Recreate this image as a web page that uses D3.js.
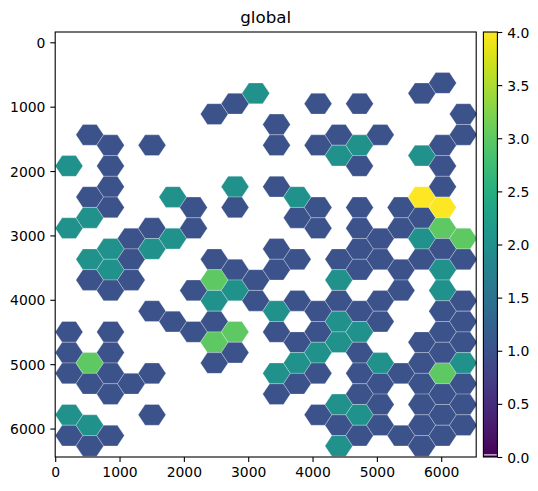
<!DOCTYPE html>
<html><head><meta charset="utf-8">
<script src="https://cdn.jsdelivr.net/npm/d3@7"></script>
<style>
body{margin:0;background:#fff;}
text{font-family:"DejaVu Sans",sans-serif;fill:#000;}
</style>
</head><body>
<svg id="chart" width="538" height="491"></svg>
<script>
// ---- data ----
const title = "global";
// hexagonal grid (data units): column centres and row centres
const gridX0 = 214.5, gridDX = 322.6;   // x of column 0, column spacing
const gridY0 = 632, gridDY = 322.2;     // y of row 0 (even columns), row spacing (odd columns offset by half)
// per column (0..19): occupied row indices and the bin counts
const hexRows = [
  [4,7,12,13,14,16,17],
  [2,5,6,8,9,13,14,16,17],
  [3,4,5,6,8,9,10,12,13,14,15,17],
  [7,8,9,14],
  [3,7,8,11,14,16],
  [5,7,11],
  [6,7,10,12],
  [1,8,9,10,11,12,13],
  [1,5,6,9,10,12,13],
  [0,9,10],
  [2,3,5,8,9,11,12,14,15],
  [5,6,8,10,12,13,14],
  [1,3,6,7,11,12,13,14,16],
  [2,3,8,9,10,11,12,15,16,17],
  [1,3,4,6,7,8,9,11,12,13,14,15,16,17],
  [2,7,8,10,11,13,14,15,16],
  [6,7,9,10,14,17],
  [0,3,5,6,7,8,12,13,14,15,16,17],
  [0,3,4,5,6,7,8,9,10,11,12,13,14,15,16,17],
  [1,2,7,8,10,11,12,13,14,15,16]
];
const hexCounts = [
  [2,2,1,1,1,2,1],
  [1,1,2,2,1,3,1,2,1],
  [1,1,1,1,2,2,1,1,1,1,1,1],
  [1,1,1,1],
  [1,1,2,1,1,1],
  [2,2,1],
  [1,1,1,1],
  [1,1,3,2,1,3,1],
  [1,2,1,1,2,3,1],
  [2,1,1],
  [1,1,1,1,1,2,1,2,1],
  [2,1,1,1,1,2,1],
  [1,1,1,1,1,1,2,1,1],
  [1,2,1,2,1,2,2,2,1,2],
  [1,2,1,1,1,1,1,1,2,1,1,1,2,1],
  [1,1,1,1,1,2,1,1,1],
  [1,1,1,1,1,1],
  [1,2,4,1,2,1,1,1,1,1,1,1],
  [1,1,1,1,4,3,1,2,2,1,1,1,3,1,1,1],
  [1,1,3,1,1,1,1,2,1,1,1]
];
const xTicks = [0,1000,2000,3000,4000,5000,6000];
const yTicks = [0,1000,2000,3000,4000,5000,6000];
const cbTicks = [0,0.5,1,1.5,2,2.5,3,3.5,4];
const xDomain = [0, 6544];
const yDomain = [-160, 6442];
const cDomain = [0, 4];

// ---- layout ----
const svg = d3.select("#chart");
const L = 55.2, R = 476.2, T = 32, B = 457;
const fs = 13.9, tickLen = 4.9, pad = 4.9;

const x = d3.scaleLinear().domain(xDomain).range([L, R]);
const y = d3.scaleLinear().domain(yDomain).range([T, B]);
const color = v => d3.interpolateViridis((v - cDomain[0]) / (cDomain[1] - cDomain[0]));

// build hex list
const hexes = [];
hexRows.forEach((rows, c) => rows.forEach((r, k) => {
  hexes.push({cx: gridX0 + c * gridDX, cy: gridY0 + r * gridDY + (c % 2) * gridDY / 2, v: hexCounts[c][k]});
}));

svg.append("defs").append("clipPath").attr("id","clip")
  .append("rect").attr("x",L).attr("y",T).attr("width",R-L).attr("height",B-T);

const hw = gridDX * 2 / 3, hh = gridDY / 2;
function hexPath(d){
  const pts = [[d.cx-hw,d.cy],[d.cx-hw/2,d.cy-hh],[d.cx+hw/2,d.cy-hh],[d.cx+hw,d.cy],[d.cx+hw/2,d.cy+hh],[d.cx-hw/2,d.cy+hh]];
  return "M" + pts.map(p => x(p[0]).toFixed(2) + "," + y(p[1]).toFixed(2)).join("L") + "Z";
}
svg.append("g").attr("clip-path","url(#clip)")
  .selectAll("path").data(hexes).join("path")
  .attr("d", hexPath)
  .attr("fill", d => color(d.v))
  .attr("stroke", "#ffffff").attr("stroke-opacity", 0.45).attr("stroke-width", 0.6);

// axes
const xAxis = d3.axisBottom(x).tickValues(xTicks).tickFormat(d3.format("d")).tickSize(tickLen).tickPadding(pad);
const gx = svg.append("g").attr("transform", `translate(0,${B})`).call(xAxis);
const yAxis = d3.axisLeft(y).tickValues(yTicks).tickFormat(d3.format("d")).tickSize(tickLen).tickPadding(pad);
const gy = svg.append("g").attr("transform", `translate(${L},0)`).call(yAxis);
[gx, gy].forEach(g => {
  g.select(".domain").remove();
  g.selectAll("line").attr("stroke","#000").attr("stroke-width",1.1);
  g.selectAll("text").attr("font-size", fs).attr("font-family","DejaVu Sans").attr("fill","#000");
});
gy.selectAll("text").attr("dy","0.36em");
gx.selectAll("text").attr("dy","0.76em");

// frame
svg.append("rect").attr("x",L).attr("y",T).attr("width",R-L).attr("height",B-T)
  .attr("fill","none").attr("stroke","#000").attr("stroke-width",1.1);

// title
svg.append("text").attr("x",(L+R)/2).attr("y",T-8.6).attr("text-anchor","middle")
  .attr("font-size",16.7).text(title);

// colorbar
const cbL = 483.4, cbR = 497.4;
const cy = d3.scaleLinear().domain(cDomain).range([B, T]);
const grad = svg.select("defs").append("linearGradient").attr("id","vir")
  .attr("x1","0").attr("y1","1").attr("x2","0").attr("y2","0");
d3.range(0, 1.0001, 0.02).forEach(t => grad.append("stop").attr("offset", t).attr("stop-color", d3.interpolateViridis(t)));
svg.append("rect").attr("x",cbL).attr("y",T).attr("width",cbR-cbL).attr("height",B-T).attr("fill","url(#vir)");
svg.append("rect").attr("x",cbL+0.5).attr("y",B-2.6).attr("width",cbR-cbL-1).attr("height",1).attr("fill","#fff");
svg.append("rect").attr("x",cbL).attr("y",T).attr("width",cbR-cbL).attr("height",B-T)
  .attr("fill","none").attr("stroke","#000").attr("stroke-width",1.1);
const cAxis = d3.axisRight(cy).tickValues(cbTicks).tickFormat(d3.format(".1f")).tickSize(tickLen).tickPadding(pad);
const gc = svg.append("g").attr("transform",`translate(${cbR},0)`).call(cAxis);
gc.select(".domain").remove();
gc.selectAll("line").attr("stroke","#000").attr("stroke-width",1.1);
gc.selectAll("text").attr("font-size",fs).attr("font-family","DejaVu Sans").attr("fill","#000").attr("dy","0.36em");
</script>
</body></html>
